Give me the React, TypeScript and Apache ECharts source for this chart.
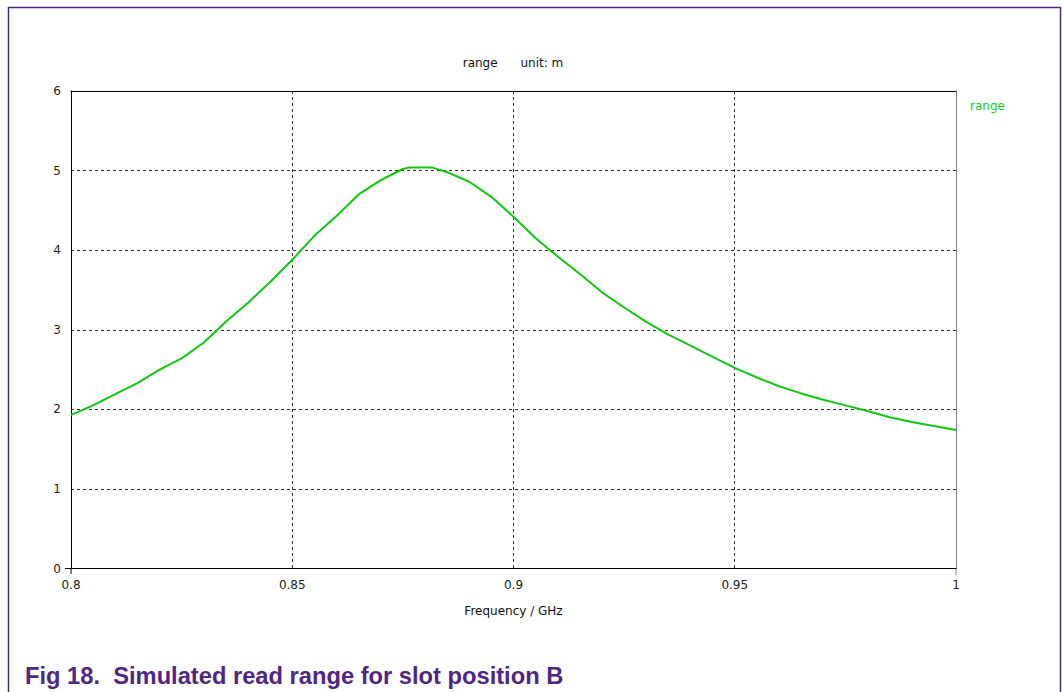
import React, { useEffect, useRef } from "react";
import * as echarts from "echarts";

const freqGHz = [
  0.8, 0.805, 0.81, 0.815, 0.82, 0.825, 0.83, 0.835, 0.84, 0.845, 0.85, 0.855,
  0.86, 0.865, 0.87, 0.875, 0.8765, 0.8815, 0.885, 0.89, 0.895, 0.9, 0.905,
  0.91, 0.915, 0.92, 0.925, 0.93, 0.935, 0.94, 0.945, 0.95, 0.955, 0.96, 0.965,
  0.97, 0.975, 0.98, 0.985, 0.99, 0.995, 1.0,
];
const rangeM = [
  1.93, 2.05, 2.19, 2.33, 2.5, 2.64, 2.84, 3.1, 3.34, 3.6, 3.88, 4.18,
  4.43, 4.7, 4.88, 5.02, 5.04, 5.04, 4.98, 4.86, 4.67, 4.42, 4.15,
  3.92, 3.7, 3.47, 3.28, 3.1, 2.94, 2.8, 2.66, 2.52, 2.4, 2.29, 2.2,
  2.12, 2.05, 1.98, 1.9, 1.84, 1.79, 1.74,
];
const seriesName = "range";
const chartTitle = "range      unit: m";
const xAxisTitle = "Frequency / GHz";
const caption = "Fig 18.  Simulated read range for slot position B";

export default function App() {
  const ref = useRef<HTMLDivElement>(null);
  useEffect(() => {
    if (!ref.current) return;
    const chart = echarts.init(ref.current, undefined, { renderer: "svg" });
    const font = "Tahoma, 'DejaVu Sans', Verdana, sans-serif";
    const data = freqGHz.map((f, i) => [f, rangeM[i]]);
    chart.setOption({
      animation: false,
      backgroundColor: "#fff",
      textStyle: { fontFamily: font },
      title: {
        text: chartTitle,
        left: 508,
        textAlign: "center",
        top: 52,
        textStyle: { fontSize: 12, fontWeight: "normal", color: "#111", fontFamily: font },
      },
      legend: {
        data: [{ name: seriesName, icon: "none" }],
        left: 960,
        top: 94,
        itemWidth: 0,
        itemGap: 0,
        textStyle: { color: "#22cc22", fontSize: 12, fontFamily: font },
      },
      grid: { left: 71, top: 91, width: 885, height: 477.5, containLabel: false },
      xAxis: [
        {
          type: "value",
          min: 0.8,
          max: 1,
          interval: 0.05,
          name: xAxisTitle,
          nameLocation: "middle",
          nameGap: 36,
          nameTextStyle: { fontSize: 12, color: "#111", fontFamily: font },
          axisLine: { show: true, onZero: false, lineStyle: { color: "#000", width: 1 } },
          axisTick: { show: false },
          axisLabel: { fontSize: 12, color: "#222", margin: 10, fontFamily: font },
          splitLine: {
            show: true,
            showMinLine: false,
            showMaxLine: false,
            lineStyle: { color: "#333", type: [3, 3], width: 1 },
          },
        },
        {
          type: "value",
          position: "top",
          min: 0.8,
          max: 1,
          interval: 0.05,
          axisLine: { show: true, onZero: false, lineStyle: { color: "#000", width: 1 } },
          axisTick: { show: false },
          axisLabel: { show: false },
          splitLine: { show: false },
        },
      ],
      yAxis: [
        {
          type: "value",
          min: 0,
          max: 6,
          interval: 1,
          axisLine: { show: true, onZero: false, lineStyle: { color: "#000", width: 1 } },
          axisTick: { show: false },
          axisLabel: { fontSize: 12, color: "#222", margin: 10, fontFamily: font },
          splitLine: {
            show: true,
            showMinLine: false,
            showMaxLine: false,
            lineStyle: { color: "#333", type: [3, 3], width: 1 },
          },
        },
        {
          type: "value",
          position: "right",
          min: 0,
          max: 6,
          interval: 1,
          axisLine: { show: true, onZero: false, lineStyle: { color: "#808080", width: 1 } },
          axisTick: { show: false },
          axisLabel: { show: false },
          splitLine: { show: false },
        },
      ],
      series: [
        {
          name: seriesName,
          type: "line",
          xAxisIndex: 0,
          yAxisIndex: 0,
          data,
          showSymbol: false,
          symbol: "none",
          smooth: false,
          lineStyle: { color: "#11c811", width: 2 },
          itemStyle: { color: "#11c811" },
        },
      ],
      graphic: [
        {
          type: "rect",
          shape: { x: 8.5, y: 7.5, width: 1052, height: 720 },
          style: { fill: "none", stroke: "#4a2a84", lineWidth: 1.5 },
          silent: true,
          z: 100,
        },
        {
          type: "line",
          shape: { x1: 65, y1: 568.5, x2: 71, y2: 568.5 },
          style: { stroke: "#000", lineWidth: 1 },
        },
        {
          type: "line",
          shape: { x1: 71, y1: 568.5, x2: 71, y2: 574 },
          style: { stroke: "#000", lineWidth: 1 },
        },
        {
          type: "line",
          shape: { x1: 956, y1: 568.5, x2: 956, y2: 575 },
          style: { stroke: "#808080", lineWidth: 1 },
        },
        {
          type: "text",
          left: 25,
          top: 664,
          style: {
            text: caption,
            fill: "#4f2683",
            font: "bold 23.7px 'Liberation Sans', Arial, sans-serif",
          },
        },
      ],
    });
    return () => chart.dispose();
  }, []);
  return (
    <div
      ref={ref}
      style={{ position: "fixed", left: 0, top: 0, width: 1063, height: 692 }}
    />
  );
}
